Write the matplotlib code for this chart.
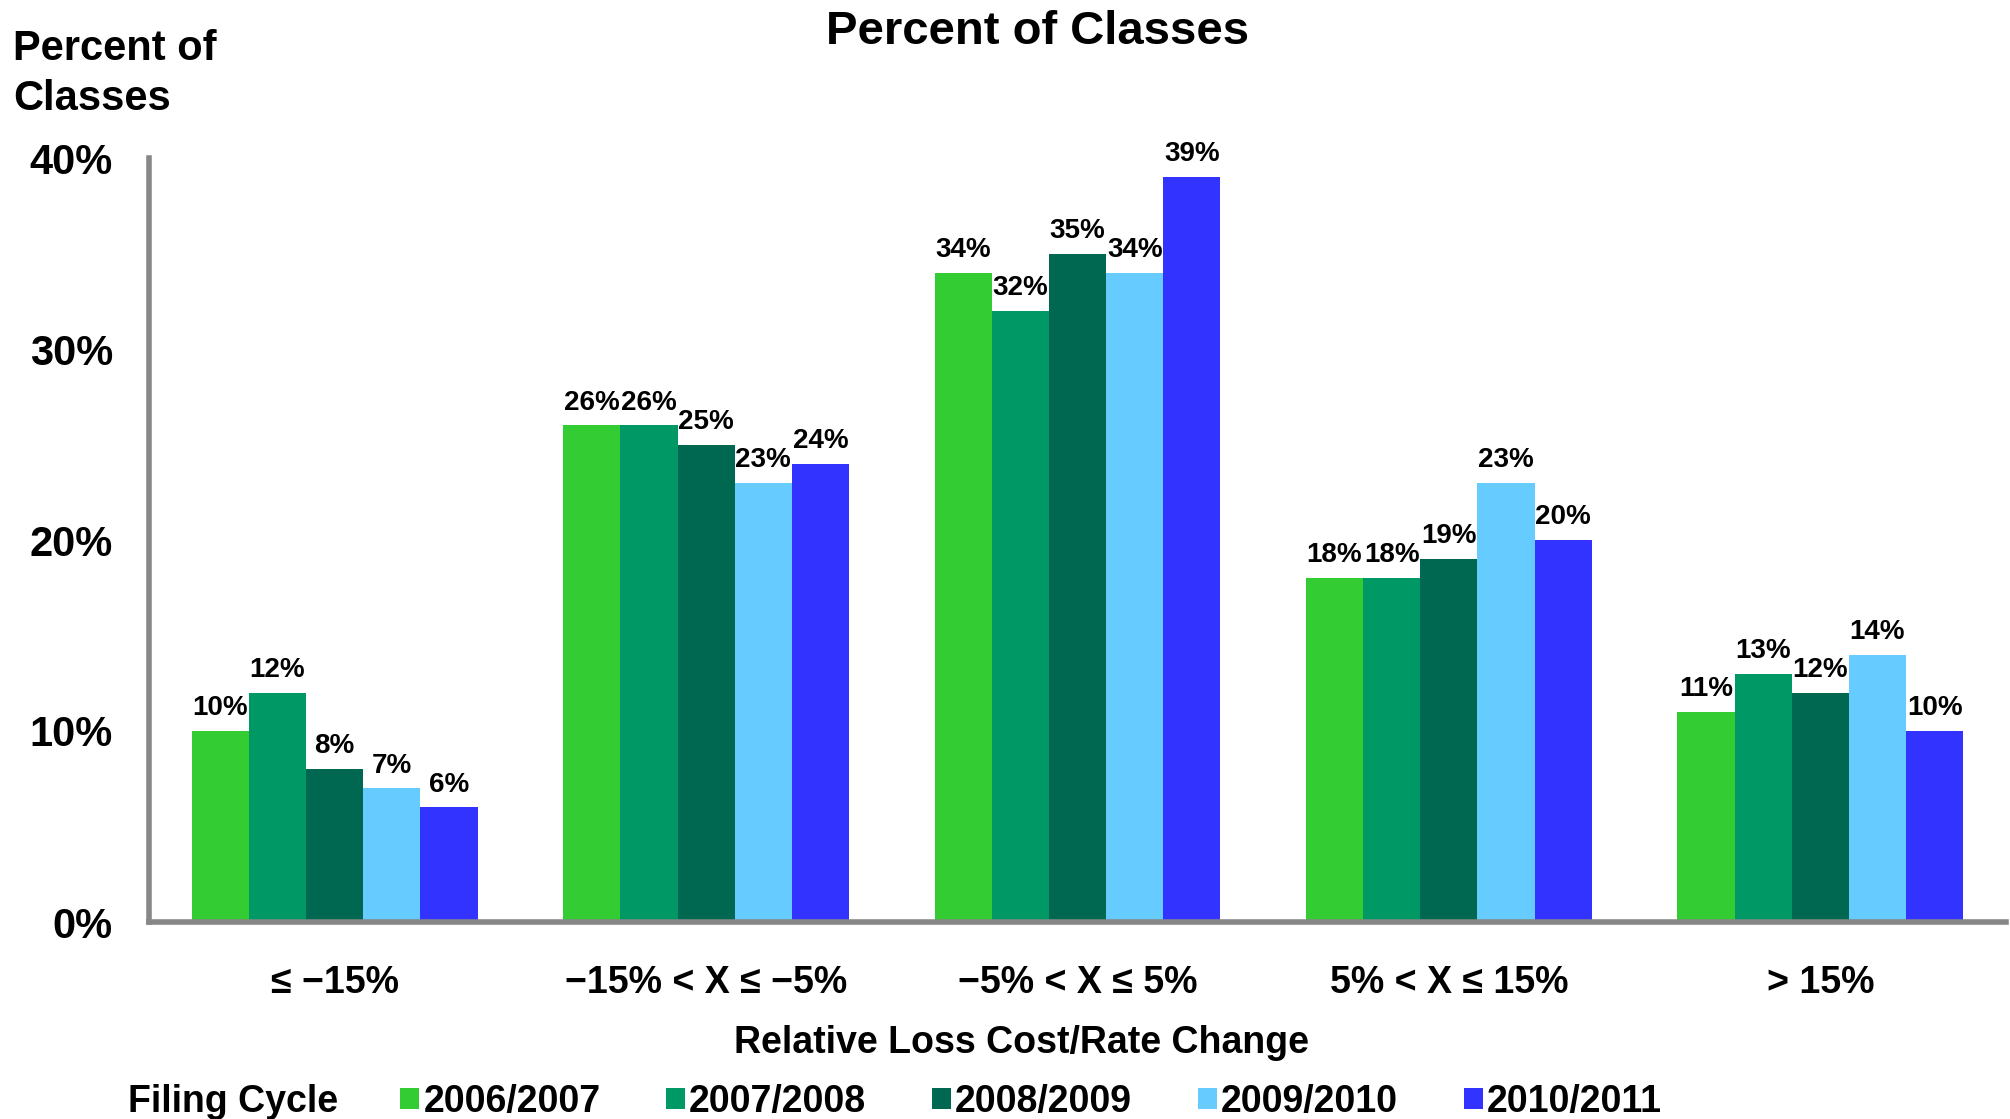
import numpy as np
import matplotlib.pyplot as plt
from matplotlib.patches import Patch

plt.rcParams['font.family'] = ['Liberation Sans', 'DejaVu Sans']
plt.rcParams['font.weight'] = 'bold'

categories = ['\u2264 \u221215%', '\u221215% < X \u2264 \u22125%', '\u22125% < X \u2264 5%',
              '5% < X \u2264 15%', '> 15%']
cycles = ['2006/2007', '2007/2008', '2008/2009', '2009/2010', '2010/2011']
colors = ['#33CC33', '#009966', '#006850', '#66CCFF', '#3333FF']

# percent of classes per filing cycle, one list per cycle
pct_0607 = [10, 26, 34, 18, 11]
pct_0708 = [12, 26, 32, 18, 13]
pct_0809 = [8, 25, 35, 19, 12]
pct_0910 = [7, 23, 34, 23, 14]
pct_1011 = [6, 24, 39, 20, 10]
series = [pct_0607, pct_0708, pct_0809, pct_0910, pct_1011]

W, H = 2010, 1119
fig = plt.figure(figsize=(W / 100, H / 100), dpi=100)
ax = fig.add_axes([149 / W, 1 - 922 / H, (2006 - 149) / W, (922 - 158) / H])

x = np.arange(len(categories))
bw = 0.154
for i, (vals, col) in enumerate(zip(series, colors)):
    bars = ax.bar(x + (i - 2) * bw, vals, width=bw, color=col, linewidth=0)
    ax.bar_label(bars, labels=[f'{v}%' for v in vals], padding=7,
                 fontsize=20, fontweight='bold')

ax.set_xlim(-0.5, 4.5)
ax.set_ylim(0, 40)
ax.set_yticks([0, 10, 20, 30, 40])
ax.set_yticklabels(['0%', '10%', '20%', '30%', '40%'], fontsize=30, fontweight='bold')
ax.set_xticks(x)
ax.set_xticklabels(categories, fontsize=27, fontweight='bold')
ax.tick_params(axis='both', length=0)
ax.tick_params(axis='y', pad=26)
ax.tick_params(axis='x', pad=31)

for s in ['top', 'right']:
    ax.spines[s].set_visible(False)
for s in ['left', 'bottom']:
    ax.spines[s].set_color('#878787')
    ax.spines[s].set_linewidth(4)

ax.set_xlabel('Relative Loss Cost/Rate Change', fontsize=27, fontweight='bold')
ax.xaxis.set_label_coords((1021 - 149) / (2006 - 149), (922 - 1043) / (922 - 158))
ax.xaxis.label.set_va('center')

fig.text(1038 / W, 1 - 32 / H, 'Percent of Classes', fontsize=34, fontweight='bold',
         ha='center', va='center')
fig.text(13 / W, 1 - 29 / H, 'Percent of\nClasses', fontsize=30, fontweight='bold',
         ha='left', va='top', linespacing=1.32)

# legend row
fig.text(128 / W, 1 - 1102 / H, 'Filing Cycle', fontsize=27, fontweight='bold',
         ha='left', va='center')
handles = [Patch(facecolor=c, edgecolor='none') for c in colors]
fig.legend(handles, cycles, loc='center left', bbox_to_anchor=(400 / W, 1 - 1102 / H),
           ncol=5, frameon=False, prop={'weight': 'bold', 'size': 27},
           handlelength=0.5, handleheight=0.5, handletextpad=0.12,
           columnspacing=1.75, borderpad=0, borderaxespad=0)

fig.savefig('out.png', dpi=100)
